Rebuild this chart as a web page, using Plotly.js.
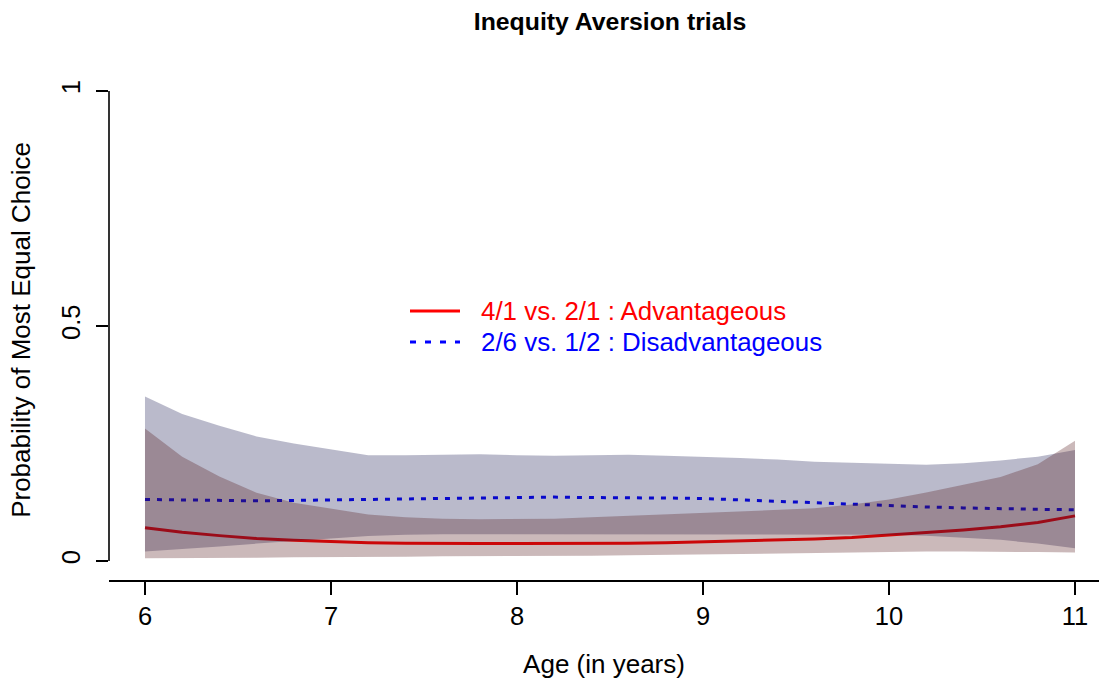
<!DOCTYPE html>
<html>
<head>
<meta charset="utf-8">
<script src="https://cdn.plot.ly/plotly-3.0.1.min.js"></script>
<style>html,body{margin:0;padding:0;background:#fff;}#chart{width:1099px;height:681px;}</style>
</head>
<body>
<div id="chart"></div>
<script>
// Age grid (years)
const age = [6.0,6.2,6.4,6.6,6.8,7.0,7.2,7.4,7.6,7.8,8.0,8.2,8.4,8.6,8.8,9.0,9.2,9.4,9.6,9.8,10.0,10.2,10.4,10.6,10.8,11.0];

// 4/1 vs. 2/1 : Advantageous
const advFit   = [0.071,0.061,0.054,0.048,0.044,0.041,0.039,0.038,0.037,0.037,0.037,0.037,0.038,0.038,0.039,0.041,0.042,0.044,0.047,0.050,0.055,0.060,0.066,0.073,0.082,0.096];
const advLower = [0.006,0.006,0.007,0.007,0.008,0.008,0.009,0.009,0.010,0.010,0.011,0.011,0.011,0.012,0.013,0.014,0.015,0.017,0.018,0.019,0.020,0.020,0.020,0.020,0.019,0.018];
const advUpper = [0.282,0.222,0.180,0.145,0.124,0.112,0.099,0.093,0.090,0.089,0.089,0.090,0.093,0.096,0.099,0.102,0.105,0.108,0.112,0.120,0.131,0.146,0.162,0.179,0.206,0.256];

// 2/6 vs. 1/2 : Disadvantageous
const disFit   = [0.131,0.130,0.129,0.128,0.129,0.130,0.131,0.132,0.133,0.134,0.135,0.136,0.135,0.135,0.134,0.133,0.130,0.127,0.123,0.120,0.118,0.115,0.113,0.111,0.110,0.109];
const disLower = [0.020,0.025,0.031,0.037,0.043,0.048,0.053,0.056,0.057,0.057,0.057,0.057,0.057,0.057,0.057,0.057,0.057,0.057,0.057,0.057,0.056,0.054,0.050,0.045,0.037,0.027];
const disUpper = [0.350,0.313,0.288,0.265,0.250,0.237,0.225,0.225,0.226,0.227,0.225,0.224,0.225,0.226,0.224,0.222,0.219,0.216,0.211,0.209,0.207,0.205,0.208,0.214,0.222,0.236];

const xTicks = [6,7,8,9,10,11];
const yTicks = [0,0.5,1];
const yTickText = ['0','0.5','1'];
const legendLabels = ['4/1 vs. 2/1 : Advantageous','2/6 vs. 1/2 : Disadvantageous'];

const FONT = 'Liberation Sans, Arial, Helvetica, sans-serif';

const traces = [
  {x: age, y: advFit, mode: 'lines', line: {color: '#ff0000', width: 3}, showlegend: false, hoverinfo: 'skip'},
  {x: age, y: disFit, mode: 'lines', line: {color: '#0000ff', width: 3, dash: '5px,7px'}, showlegend: false, hoverinfo: 'skip'},
  {x: age, y: disLower, mode: 'lines', line: {width: 0, color: 'rgba(0,0,0,0)'}, showlegend: false, hoverinfo: 'skip'},
  {x: age, y: disUpper, mode: 'lines', line: {width: 0, color: 'rgba(0,0,0,0)'}, fill: 'tonexty', fillcolor: 'rgba(25,25,82,0.3)', showlegend: false, hoverinfo: 'skip'},
  {x: age, y: advLower, mode: 'lines', line: {width: 0, color: 'rgba(0,0,0,0)'}, showlegend: false, hoverinfo: 'skip'},
  {x: age, y: advUpper, mode: 'lines', line: {width: 0, color: 'rgba(0,0,0,0)'}, fill: 'tonexty', fillcolor: 'rgba(82,22,25,0.3)', showlegend: false, hoverinfo: 'skip'}
];

// plot area: x 109..1099 px, y 80..580 px
const px = v => (v - 109) / 990;
const py = v => (580 - v) / 500;

const layout = {
  width: 1099, height: 681,
  margin: {l: 109, r: 0, t: 80, b: 101},
  paper_bgcolor: '#fff', plot_bgcolor: '#fff',
  font: {family: FONT, size: 26, color: '#000'},
  hovermode: false,
  showlegend: false,
  title: {text: '<b>Inequity Aversion trials</b>', font: {family: FONT, size: 24.8, color: '#000'},
          x: px(610), xref: 'paper', xanchor: 'center', y: 0.968, yref: 'container', yanchor: 'middle'},
  xaxis: {
    range: [5.8065, 11.129], tickmode: 'array', tickvals: xTicks, ticktext: xTicks.map(String),
    showline: true, linecolor: '#000', linewidth: 1.6, ticks: 'outside', ticklen: 13, tickwidth: 1.6, tickcolor: '#000',
    showgrid: false, zeroline: false, tickfont: {size: 25.5}, ticklabelstandoff: 0,
    title: {text: 'Age (in years)', font: {size: 26}, standoff: 25}
  },
  yaxis: {
    range: [-0.0404, 1.0234], tickmode: 'array', tickvals: yTicks, ticktext: yTickText, tickangle: -90,
    showline: false, ticks: 'outside', ticklen: 12, tickwidth: 1.6, tickcolor: '#000',
    showgrid: false, zeroline: false, tickfont: {size: 25.5}, ticklabelstandoff: 6,
    title: {text: 'Probability of Most Equal Choice', font: {size: 26}, standoff: 18}
  },
  shapes: [
    {type: 'line', xref: 'paper', yref: 'y', x0: 0, x1: 0, y0: 0, y1: 1, line: {color: '#000', width: 1.6}},
    {type: 'line', xref: 'paper', yref: 'paper', x0: px(410), x1: px(460), y0: py(311), y1: py(311), line: {color: '#ff0000', width: 3}},
    {type: 'line', xref: 'paper', yref: 'paper', x0: px(410), x1: px(460), y0: py(342), y1: py(342), line: {color: '#0000ff', width: 3, dash: '6px,9px'}}
  ],
  annotations: [
    {xref: 'paper', yref: 'paper', x: px(479), y: py(311), xanchor: 'left', yanchor: 'middle', showarrow: false,
     text: legendLabels[0], font: {family: FONT, size: 25.9, color: '#ff0000'}},
    {xref: 'paper', yref: 'paper', x: px(479), y: py(342), xanchor: 'left', yanchor: 'middle', showarrow: false,
     text: legendLabels[1], font: {family: FONT, size: 25.9, color: '#0000ff'}}
  ]
};

Plotly.newPlot('chart', traces, layout, {displayModeBar: false, staticPlot: true});
</script>
</body>
</html>
